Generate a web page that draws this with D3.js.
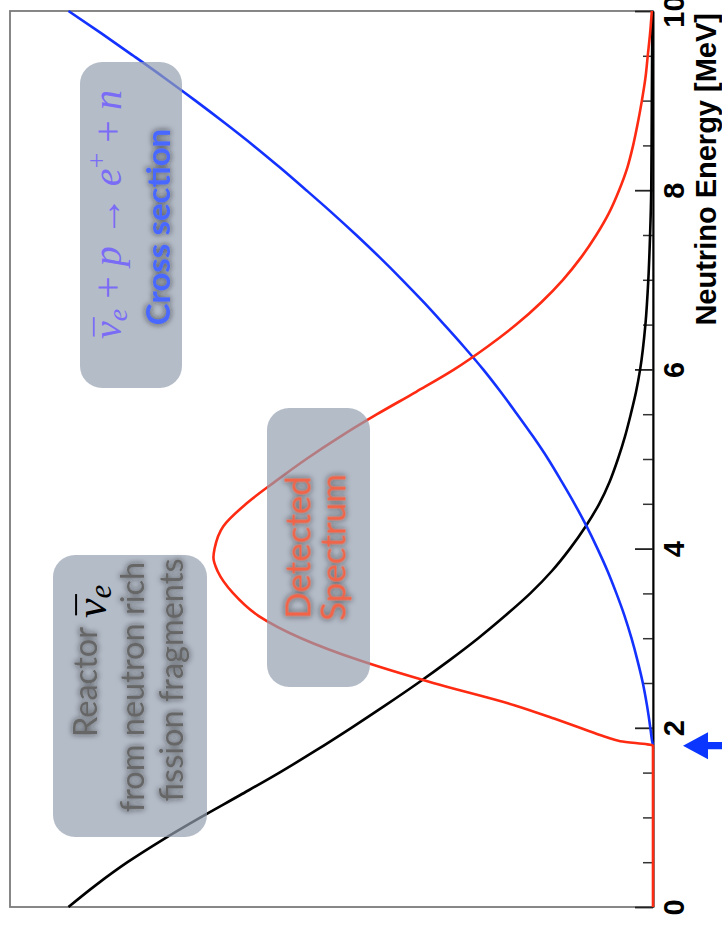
<!DOCTYPE html>
<html>
<head>
<meta charset="utf-8">
<script src="https://cdn.jsdelivr.net/npm/d3@7"></script>
<style>
  body { margin: 0; background: #fff; }
  svg { display: block; }
</style>
</head>
<body>
<svg id="chart" width="722" height="925"></svg>
<script>
// Neutrino energy (MeV) runs along the vertical axis; curve heights (arbitrary units) run leftwards.

// Reactor antineutrino flux
const fluxEnergy = [0, 0.25, 0.5, 0.75, 1, 1.25, 1.5, 1.75, 2, 2.25, 2.5, 2.75, 3, 3.25, 3.5, 3.75, 4, 4.25, 4.5, 4.75, 5, 5.25, 5.5, 5.75, 6, 6.5, 7, 7.5, 8, 9, 10];
const fluxValue  = [1.000, 0.952, 0.899, 0.839, 0.774, 0.706, 0.639, 0.576, 0.516, 0.458, 0.402, 0.349, 0.299, 0.253, 0.210, 0.173, 0.142, 0.115, 0.092, 0.074, 0.060, 0.048, 0.038, 0.029, 0.022, 0.013, 0.008, 0.005, 0.003, 0.002, 0.001];

// Inverse beta decay cross section
const xsecEnergy = [1.81, 1.85, 1.9, 2, 2.25, 2.5, 2.75, 3, 3.25, 3.5, 3.75, 4, 4.25, 4.5, 4.75, 5, 5.25, 5.5, 5.75, 6, 6.25, 6.5, 6.75, 7, 7.25, 7.5, 7.75, 8, 8.25, 8.5, 8.75, 9, 9.25, 9.5, 9.75, 10];
const xsecValue  = [0, 0.0015, 0.0026, 0.0046, 0.0103, 0.0174, 0.0265, 0.0368, 0.0487, 0.0626, 0.0778, 0.0950, 0.1137, 0.1342, 0.1564, 0.1795, 0.2051, 0.2325, 0.2607, 0.2906, 0.3231, 0.3573, 0.3923, 0.4291, 0.4675, 0.5077, 0.5496, 0.5932, 0.6376, 0.6838, 0.7325, 0.7829, 0.8350, 0.8889, 0.9436, 1.000];

// Detected spectrum
const detEnergy = [0, 1.8, 1.85, 1.9, 2, 2.1, 2.25, 2.5, 2.75, 3, 3.25, 3.5, 3.75, 3.9, 4, 4.25, 4.5, 4.75, 5, 5.25, 5.5, 5.75, 6, 6.25, 6.5, 6.75, 7, 7.25, 7.5, 7.75, 8, 8.25, 8.5, 8.75, 9, 9.25, 9.5, 9.75, 10];
const detValue  = [0, 0, 0.056, 0.082, 0.125, 0.168, 0.236, 0.376, 0.501, 0.602, 0.675, 0.718, 0.745, 0.752, 0.750, 0.735, 0.696, 0.646, 0.593, 0.535, 0.472, 0.405, 0.340, 0.284, 0.234, 0.191, 0.154, 0.123, 0.097, 0.075, 0.058, 0.044, 0.034, 0.026, 0.019, 0.013, 0.009, 0.005, 0.002];

const majorTicks = [0, 2, 4, 6, 8, 10];
const tickLabels = ["0", "2", "4", "6", "8", "10"];
const minorTicks = [0.5, 1, 1.5, 2.5, 3, 3.5, 4.5, 5, 5.5, 6.5, 7, 7.5, 8.5, 9, 9.5];
const thresholdEnergy = 1.8;
const axisTitle = "Neutrino Energy [MeV]";

const svg = d3.select("#chart");

const y = d3.scaleLinear().domain([0, 10]).range([907, 11]);
const x = d3.scaleLinear().domain([0, 1.1]).range([653, 10]);

// text glow used on the annotation labels
const defs = svg.append("defs");
const halo = defs.append("filter").attr("id", "halo")
  .attr("x", "-30%").attr("y", "-60%").attr("width", "160%").attr("height", "220%");
halo.append("feGaussianBlur").attr("in", "SourceAlpha").attr("stdDeviation", 3).attr("result", "blur");
halo.append("feFlood").attr("flood-color", "#1a1a1a").attr("flood-opacity", 0.8).attr("result", "col");
halo.append("feComposite").attr("in", "col").attr("in2", "blur").attr("operator", "in").attr("result", "shadow");
halo.append("feGaussianBlur").attr("in", "SourceGraphic").attr("stdDeviation", 0.5).attr("result", "soft");
const merge = halo.append("feMerge");
merge.append("feMergeNode").attr("in", "shadow");
merge.append("feMergeNode").attr("in", "soft");

// frame
svg.append("rect")
  .attr("x", x(1.1)).attr("y", y(10))
  .attr("width", x(0) - x(1.1)).attr("height", y(0) - y(10))
  .attr("fill", "none").attr("stroke", "#7a7a7a").attr("stroke-width", 1.8);

// energy axis on the right, ticks pointing into the plot
const axisG = svg.append("g").attr("transform", `translate(${x(0)},0)`);
axisG.append("g")
  .call(d3.axisRight(y).tickValues(minorTicks).tickSizeInner(-10).tickSizeOuter(0).tickFormat(""))
  .call(g => g.select(".domain").remove())
  .call(g => g.selectAll("line").attr("stroke", "#333").attr("stroke-width", 1.5));
const majorG = axisG.append("g")
  .call(d3.axisRight(y).tickValues(majorTicks).tickSizeInner(-18).tickSizeOuter(0)
    .tickFormat((d, i) => tickLabels[i]));
majorG.select(".domain").attr("stroke", "#000").attr("stroke-width", 2);
majorG.selectAll("line").attr("stroke", "#222").attr("stroke-width", 1.8);
majorG.selectAll("text")
  .attr("x", 0).attr("dy", null).attr("y", 0)
  .attr("text-anchor", "middle")
  .attr("transform", "translate(31,0) rotate(-90)")
  .attr("font-family", "'Liberation Sans', Arial, sans-serif")
  .attr("font-weight", "bold").attr("font-size", 29).attr("fill", "#000");

svg.append("text")
  .attr("transform", `translate(716,${y(10) + 2}) rotate(-90)`)
  .attr("text-anchor", "end")
  .attr("font-family", "'Liberation Sans', Arial, sans-serif")
  .attr("font-weight", "bold").attr("font-size", 29).attr("fill", "#000")
  .text(axisTitle);

// curves
const line = d3.line().x(d => x(d.v)).y(d => y(d.e)).curve(d3.curveMonotoneY);
const series = [
  { e: fluxEnergy, v: fluxValue, color: "#000000" },
  { e: xsecEnergy, v: xsecValue, color: "#1432ff" },
  { e: detEnergy,  v: detValue,  color: "#ff2a12" }
];
svg.append("g").selectAll("path").data(series).join("path")
  .attr("d", s => line(s.e.map((e, i) => ({ e, v: s.v[i] }))))
  .attr("fill", "none").attr("stroke", s => s.color)
  .attr("stroke-width", 2.6).attr("stroke-linejoin", "round");

// threshold arrow
svg.append("path")
  .attr("transform", `translate(683,${y(thresholdEnergy)})`)
  .attr("d", "M0,0 L25,-13.5 L25,-3.6 L40,-3.6 L40,3.6 L25,3.6 L25,13.5 Z")
  .attr("fill", "#0a36ff");

// annotation boxes (rotated text reads bottom to top)
function box(cx, cy, w, h) {
  svg.append("rect")
    .attr("x", cx - w / 2).attr("y", cy - h / 2).attr("width", w).attr("height", h)
    .attr("rx", 22).attr("ry", 22)
    .attr("fill", "rgb(148,159,176)").attr("fill-opacity", 0.7);
  return svg.append("g").attr("transform", `translate(${cx},${cy}) rotate(-90)`);
}
const sansFont = "Lato, 'Open Sans', sans-serif";
const serifFont = "'Liberation Serif', 'DejaVu Serif', serif";

function addBar(textSel, size) {
  const node = textSel.node();
  const a = node.getStartPositionOfChar(0);
  const b = node.getEndPositionOfChar(0);
  d3.select(node.parentNode).append("line")
    .attr("x1", a.x + size * 0.06).attr("x2", b.x + size * 0.1)
    .attr("y1", a.y - size * 0.68).attr("y2", a.y - size * 0.68)
    .attr("stroke", textSel.attr("fill")).attr("stroke-width", size * 0.045);
}

// reactor flux label
const g1 = box(130, 696, 154, 282);
g1.append("text").attr("x", -41).attr("y", -33)
  .attr("font-family", sansFont).attr("font-size", 32.5).attr("fill", "#666")
  .attr("filter", "url(#halo)").text("Reactor");
const nu1 = g1.append("text").attr("x", 78).attr("y", -24)
  .attr("font-family", serifFont).attr("font-size", 44).attr("fill", "#000");
nu1.append("tspan").attr("font-style", "italic").text("ν");
nu1.append("tspan").attr("font-style", "italic").attr("font-size", 31).attr("dy", 5).text("e");
addBar(nu1, 44);
g1.append("text").attr("x", 9).attr("y", 14).attr("text-anchor", "middle")
  .attr("font-family", sansFont).attr("font-size", 32.5).attr("fill", "#666")
  .attr("filter", "url(#halo)").text("from neutron rich");
g1.append("text").attr("x", 16).attr("y", 53).attr("text-anchor", "middle")
  .attr("font-family", sansFont).attr("font-size", 32.5).attr("fill", "#666")
  .attr("filter", "url(#halo)").text("fission fragments");

// detected spectrum label
const g2 = box(318.5, 547.5, 103, 279);
g2.append("text").attr("x", 0).attr("y", -8.5).attr("text-anchor", "middle")
  .attr("font-family", sansFont).attr("font-size", 35).attr("fill", "#f36446")
  .attr("filter", "url(#halo)").text("Detected");
g2.append("text").attr("x", 0).attr("y", 26.5).attr("text-anchor", "middle")
  .attr("font-family", sansFont).attr("font-size", 35).attr("fill", "#f36446")
  .attr("filter", "url(#halo)").text("Spectrum");

// cross-section label
const g3 = box(131, 225, 102, 326);
const eq = g3.append("text").attr("x", 10.5).attr("y", -10).attr("text-anchor", "middle")
  .attr("font-family", serifFont).attr("font-size", 40).attr("fill", "#7b6cf6");
eq.append("tspan").attr("font-style", "italic").text("ν");
eq.append("tspan").attr("font-style", "italic").attr("font-size", 28).attr("dy", 6).text("e");
eq.append("tspan").attr("dy", -6).text(" + ");
eq.append("tspan").attr("font-style", "italic").text("p");
eq.append("tspan").text(" → ");
eq.append("tspan").attr("font-style", "italic").text("e");
eq.append("tspan").attr("font-size", 28).attr("dy", -15).text("+");
eq.append("tspan").attr("dy", 15).text(" + ");
eq.append("tspan").attr("font-style", "italic").text("n");
addBar(eq, 40);
g3.append("text").attr("x", -2).attr("y", 39).attr("text-anchor", "middle")
  .attr("font-family", sansFont).attr("font-weight", "bold").attr("font-size", 33).attr("fill", "#4a68ff")
  .attr("filter", "url(#halo)").text("Cross section");
</script>
</body>
</html>
